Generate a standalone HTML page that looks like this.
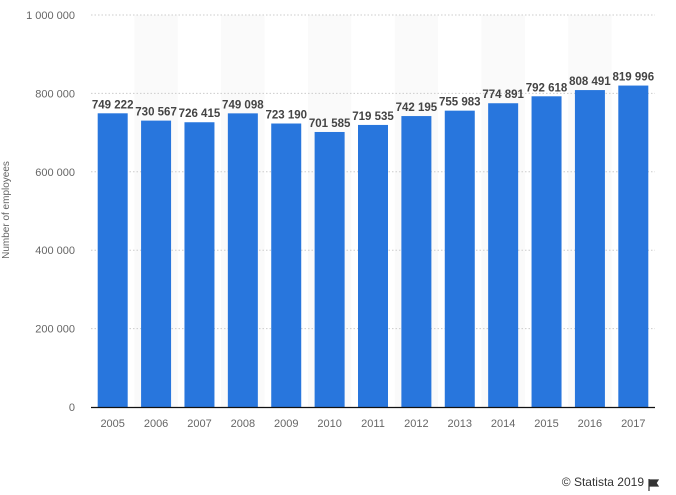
<!DOCTYPE html>
<html><head><meta charset="utf-8"><style>
body{margin:0;background:#fff;font-family:"Liberation Sans",sans-serif;}
svg{display:block}
</style></head><body>
<svg width="676" height="495">
<g id="bg"></g><g id="grid"></g><g id="bars"></g><g id="labels"></g><g id="axes"></g>
<text x="9" y="210" transform="rotate(-90 9 210)" text-anchor="middle" font-size="10" fill="#666">Number of employees</text>
<text x="644" y="486" text-anchor="end" font-size="12" fill="#333">© Statista 2019</text>
<path d="M649 479v12M649 480h9l-2 3 2 3h-9" fill="#333" stroke="#333" stroke-width="1.2"/>
</svg>
<script>
const categories=["2005","2006","2007","2008","2009","2010","2011","2012","2013","2014","2015","2016","2017"];
const values=[749222,730567,726415,749098,723190,701585,719535,742195,755983,774891,792618,808491,819996];
const yTicks=[0,200000,400000,600000,800000,1000000];
const NS="http://www.w3.org/2000/svg";
const x0=91,x1=655,yTop=15,yBot=407,yMax=1000000;
const bw=(x1-x0)/categories.length;
const y=v=>yBot-(v/yMax)*(yBot-yTop);
const xc=i=>x0+bw*(i+0.5);
const fmt=v=>String(v).replace(/\B(?=(\d{3})+(?!\d))/g," ");
function mk(t,a,p){const e=document.createElementNS(NS,t);for(const k in a)e.setAttribute(k,a[k]);document.getElementById(p).appendChild(e);return e;}
categories.forEach((c,i)=>{
 if(i%2===1){const r=mk("rect",{x:x0+bw*i,y:yTop,width:bw,height:yBot-yTop,fill:"#fafafa"},"bg");
 
 }
});
yTicks.forEach(t=>{
 if(t>0){const l=mk("line",{x1:x0,x2:x1,y1:y(t),y2:y(t),stroke:"#ccc","stroke-dasharray":"1.5,2"},"grid");
 
 }
 const tx=mk("text",{x:75,y:y(t)+4,"text-anchor":"end","font-size":"11",fill:"#666"},"axes");
 tx.textContent=fmt(t);
 
 
});
values.forEach((v,i)=>{
 const r=mk("rect",{x:xc(i)-15,y:y(v),width:30,height:yBot-y(v),fill:"#2876dd"},"bars");
 
 
 const t=mk("text",{x:xc(i),y:y(v)-5,"text-anchor":"middle","font-size":"11.5","font-weight":"bold",fill:"#444"},"labels");
 t.textContent=fmt(v);
 
 
 const cx=mk("text",{x:xc(i),y:427,"text-anchor":"middle","font-size":"11",fill:"#666"},"axes");
 cx.textContent=categories[i];
 
 
});
const ax=mk("line",{x1:x0,x2:x1,y1:yBot+0.5,y2:yBot+0.5,stroke:"#111","stroke-width":"1.2"},"axes");


</script>
</body></html>
